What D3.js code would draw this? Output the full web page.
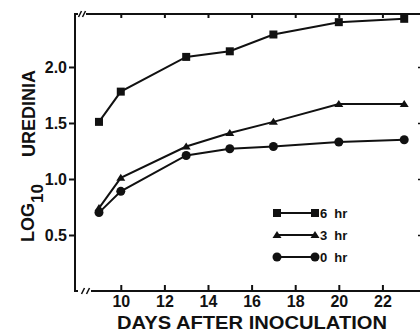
<!DOCTYPE html>
<html>
<head>
<meta charset="utf-8">
<script src="https://cdn.jsdelivr.net/npm/d3@7"></script>
<style>
  body { margin: 0; background: #fff; }
  svg { display: block; font-family: "Liberation Sans", Arial, sans-serif; font-weight: bold; }
  .axis text { fill: #111; }
</style>
</head>
<body>
<div id="chart"></div>
<script>
const WIDTH = 420;
const HEIGHT = 332;
const INK = "#111";

const DAYS = [9, 10, 13, 15, 17, 20, 23];
const SERIES_NAMES = ["6 hr", "3 hr", "0 hr"];
const SERIES_MARKERS = ["square", "triangle", "circle"];
const HR6 = [1.51, 1.78, 2.09, 2.14, 2.29, 2.40, 2.43];
const HR3 = [0.74, 1.01, 1.29, 1.41, 1.51, 1.67, 1.67];
const HR0 = [0.70, 0.89, 1.21, 1.27, 1.29, 1.33, 1.35];
const X_TICKS = [10, 12, 14, 16, 18, 20, 22];
const Y_TICKS = [0.5, 1.0, 1.5, 2.0];

const series = [HR6, HR3, HR0].map((vals, i) => ({
  name: SERIES_NAMES[i],
  marker: SERIES_MARKERS[i],
  points: vals.map((v, j) => ({ day: DAYS[j], value: v }))
}));

const svg = d3.select("#chart").append("svg")
  .attr("width", WIDTH)
  .attr("height", HEIGHT);

const x = d3.scaleLinear().domain([7.9, 23.77]).range([75, 421]);
const y = d3.scaleLinear().domain([0, 2.473]).range([291, 14]);

const plotLeft = x.range()[0], plotRight = x.range()[1];
const plotTop = y.range()[1], plotBottom = y.range()[0];

// bottom axis, ticks pointing in
svg.append("g")
  .attr("class", "axis")
  .attr("transform", `translate(0,${plotBottom})`)
  .call(d3.axisBottom(x).tickValues(X_TICKS).tickSize(-6).tickPadding(4.5))
  .call(g => g.select(".domain").remove())
  .call(g => g.selectAll("line").attr("stroke", INK).attr("stroke-width", 2))
  .call(g => g.selectAll("text").attr("font-size", 16));

// top axis, ticks only
svg.append("g")
  .attr("transform", `translate(0,${plotTop})`)
  .call(d3.axisTop(x).tickValues(X_TICKS).tickSize(-4).tickFormat(""))
  .call(g => g.select(".domain").remove())
  .call(g => g.selectAll("line").attr("stroke", INK).attr("stroke-width", 2));

// left axis
svg.append("g")
  .attr("class", "axis")
  .attr("transform", `translate(${plotLeft},0)`)
  .call(d3.axisLeft(y).tickValues(Y_TICKS).tickSize(6).tickPadding(2).tickFormat(d3.format(".1f")))
  .call(g => g.select(".domain").remove())
  .call(g => g.selectAll("line").attr("stroke", INK).attr("stroke-width", 2))
  .call(g => g.selectAll("text").attr("font-size", 16));

// right axis stubs (mostly off the edge)
svg.append("g")
  .attr("transform", `translate(${plotRight + 2},0)`)
  .call(d3.axisRight(y).tickValues(Y_TICKS).tickSize(-5).tickFormat(""))
  .call(g => g.select(".domain").remove())
  .call(g => g.selectAll("line").attr("stroke", INK).attr("stroke-width", 1.5));

// frame lines with axis breaks
const frame = svg.append("g").attr("stroke", INK).attr("stroke-width", 2).attr("fill", "none");
frame.append("path").attr("d", `M${plotLeft + 3},${plotTop} H${plotLeft} V${plotBottom} H${plotLeft + 3}`);
frame.append("path").attr("d", `M${plotLeft + 11},${plotTop} H${plotRight}`);
frame.append("path").attr("d", `M${plotLeft + 16},${plotBottom} H${plotRight}`);
[[plotLeft + 5, plotTop], [plotLeft + 9, plotTop], [plotLeft + 8, plotBottom], [plotLeft + 13, plotBottom]].forEach(([bx, by]) => {
  frame.append("line")
    .attr("x1", bx - 1.5).attr("y1", by + 3)
    .attr("x2", bx + 1.5).attr("y2", by - 3)
    .attr("stroke-width", 1.6);
});

// axis titles
svg.append("text")
  .attr("x", 117)
  .attr("y", 329)
  .attr("font-size", 18)
  .attr("textLength", 270)
  .attr("lengthAdjust", "spacingAndGlyphs")
  .attr("fill", INK)
  .text("DAYS AFTER INOCULATION");

const ylab = svg.append("g").attr("transform", "rotate(-90)").attr("fill", INK).attr("font-size", 18);
const logText = ylab.append("text").attr("x", -242).attr("y", 34);
logText.append("tspan").text("LOG");
logText.append("tspan").attr("dy", 9).attr("font-size", 17).text("10");
ylab.append("text").attr("x", -157).attr("y", 35).text("UREDINIA");

// markers
function drawMarker(sel, type, px, py) {
  if (type === "square") {
    sel.append("rect").attr("x", px - 4).attr("y", py - 4).attr("width", 8).attr("height", 8);
  } else if (type === "triangle") {
    sel.append("path").attr("d", `M${px},${py - 4} L${px + 4.5},${py + 3} L${px - 4.5},${py + 3} Z`);
  } else {
    sel.append("circle").attr("cx", px).attr("cy", py).attr("r", 4.5);
  }
}

const line = d3.line().x(d => x(d.day)).y(d => y(d.value));

series.forEach(s => {
  const g = svg.append("g");
  g.append("path")
    .attr("d", line(s.points))
    .attr("fill", "none")
    .attr("stroke", INK)
    .attr("stroke-width", 2);
  const mg = g.append("g").attr("fill", INK);
  s.points.forEach(p => drawMarker(mg, s.marker, x(p.day), y(p.value)));
});

// legend
const legend = svg.append("g").attr("transform", "translate(277,213)");
series.forEach((s, i) => {
  const row = legend.append("g").attr("transform", `translate(0,${i * 22})`);
  row.append("line").attr("x1", 0).attr("x2", 38).attr("y1", 0).attr("y2", 0)
    .attr("stroke", INK).attr("stroke-width", 2);
  const mg = row.append("g").attr("fill", INK);
  drawMarker(mg, s.marker, 0, 0);
  drawMarker(mg, s.marker, 38, 0);
  const parts = s.name.split(" ");
  const t = row.append("text").attr("x", 43).attr("y", 5).attr("font-size", 13).attr("fill", INK);
  t.append("tspan").text(parts[0]);
  t.append("tspan").attr("dx", 7).text(parts[1]);
});
</script>
</body>
</html>
